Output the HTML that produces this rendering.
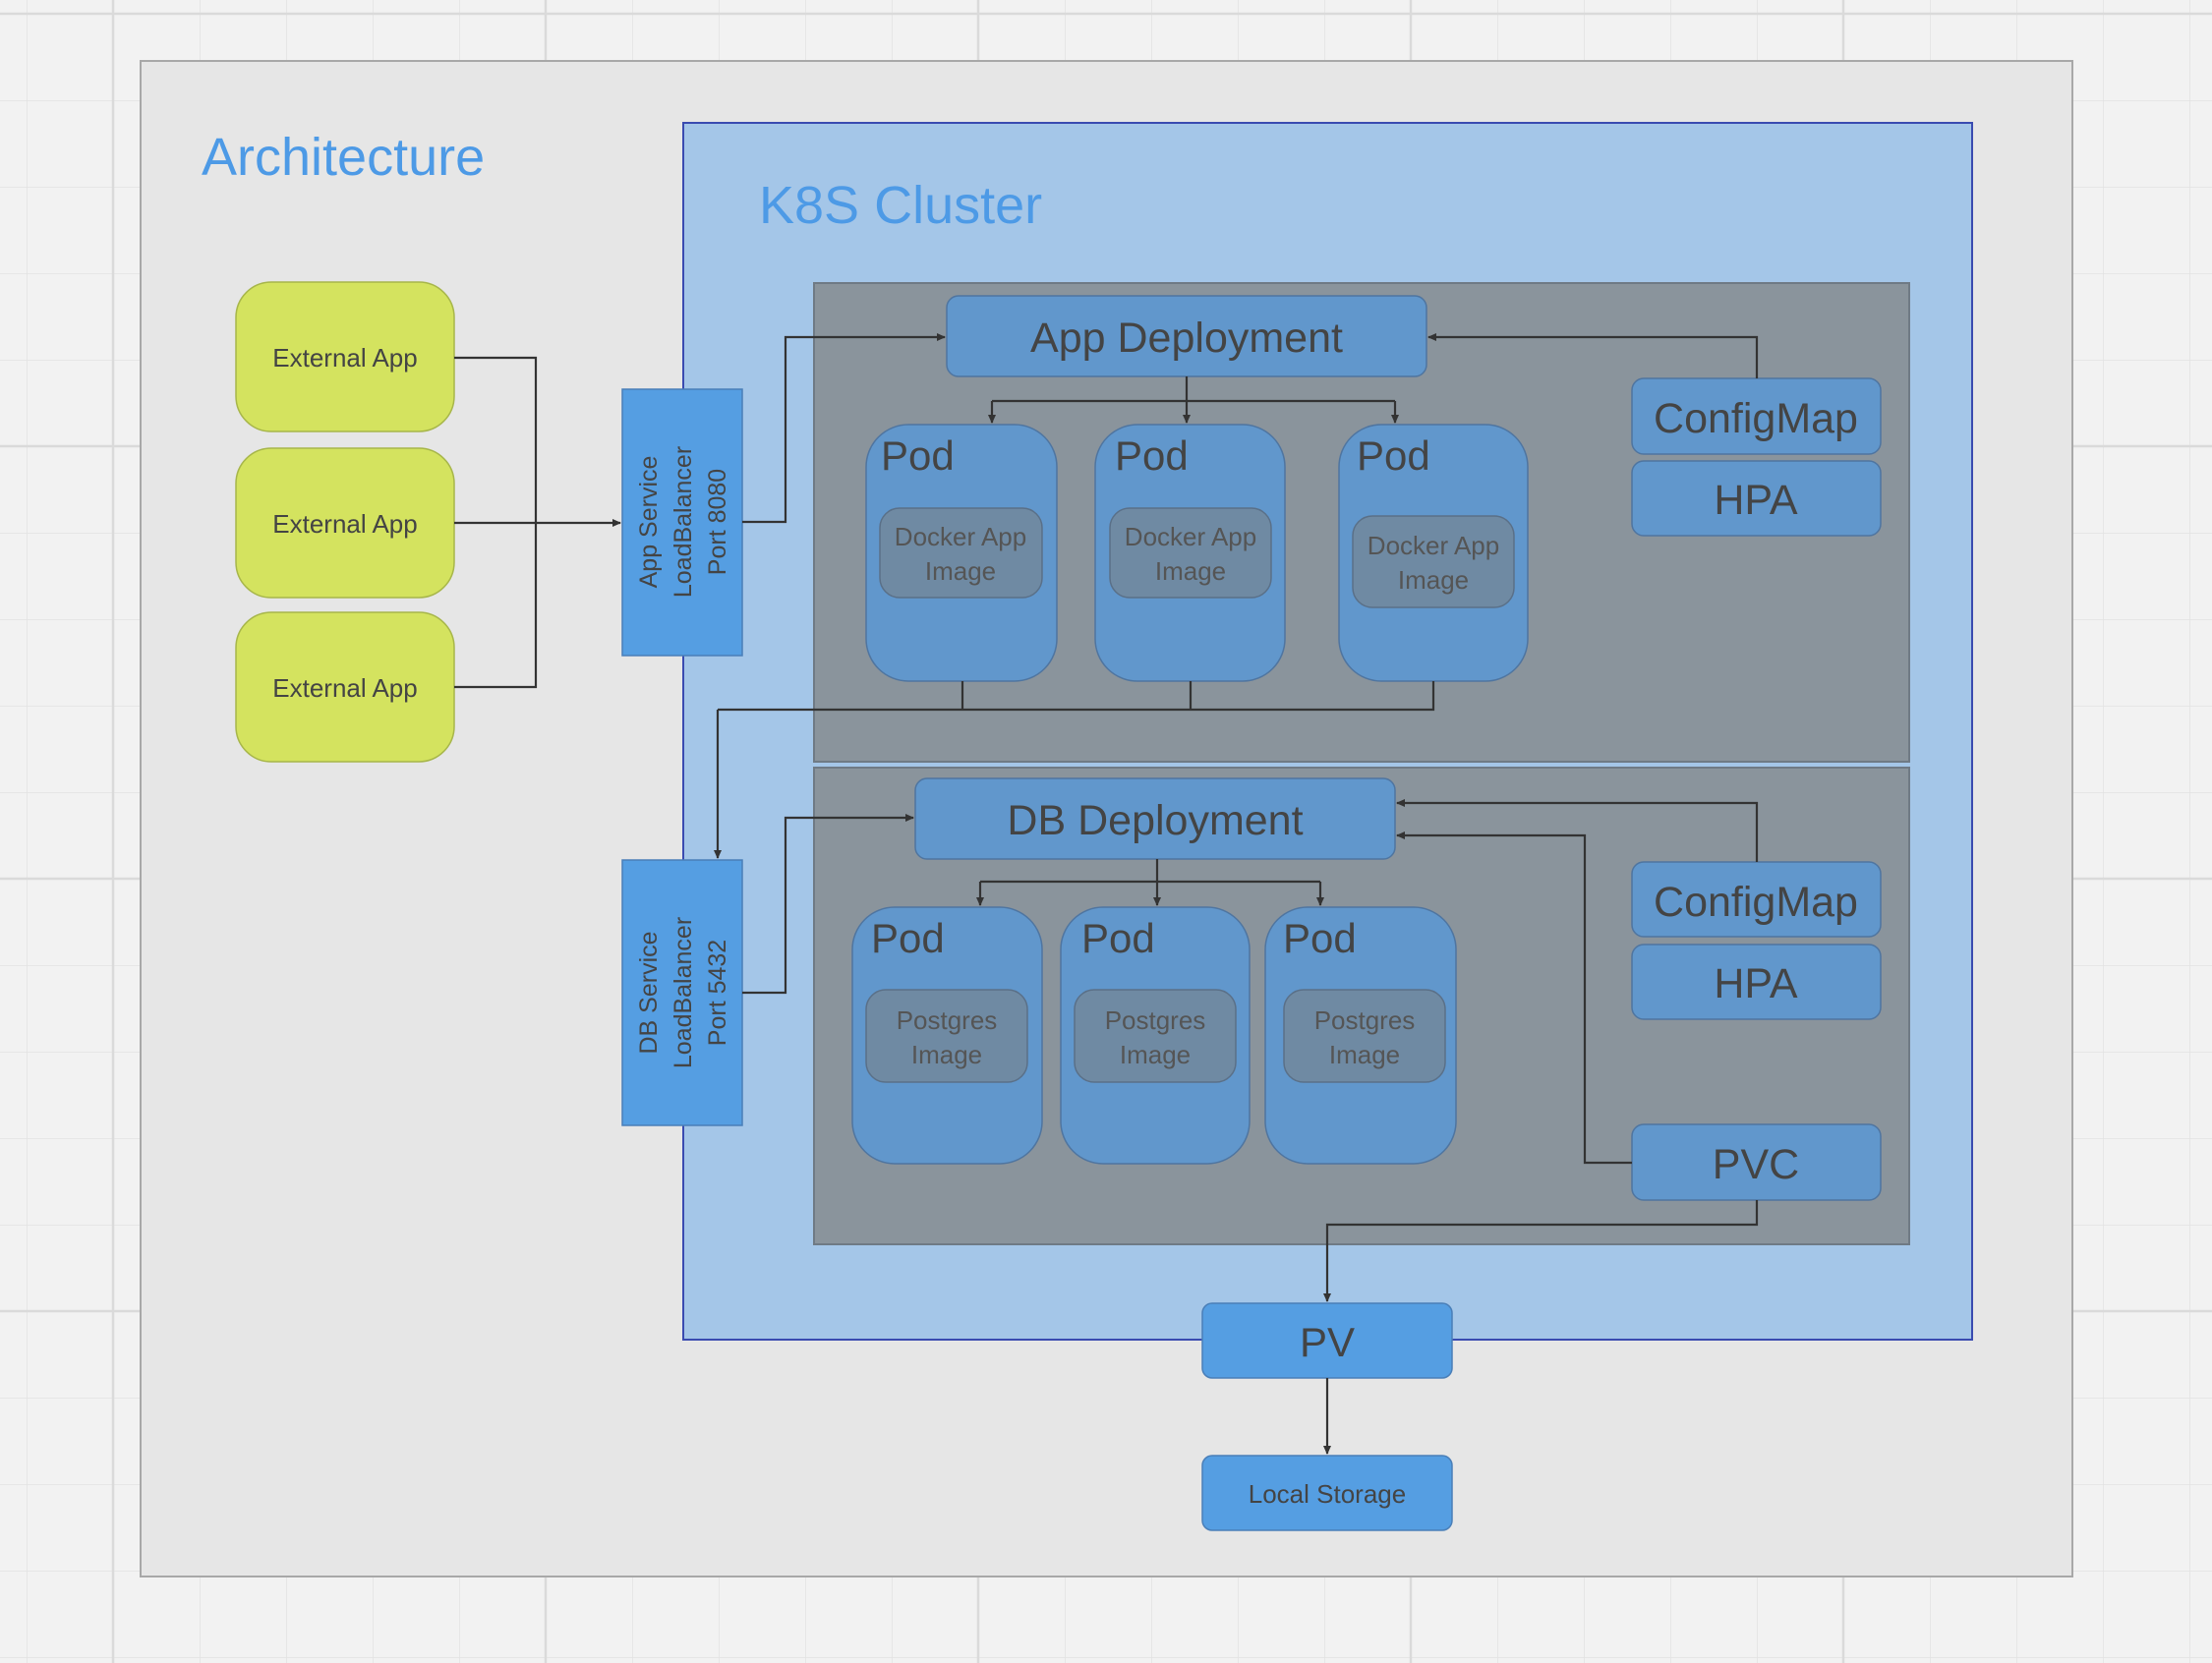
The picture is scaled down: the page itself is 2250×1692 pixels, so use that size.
<!DOCTYPE html>
<html><head><meta charset="utf-8"><style>
html,body{margin:0;padding:0;width:2250px;height:1692px;overflow:hidden;background:#f2f2f2}
svg{display:block}
text{font-family:"Liberation Sans","DejaVu Sans",sans-serif;}
</style></head><body>
<svg width="2250" height="1692" viewBox="0 0 2250 1692" xmlns="http://www.w3.org/2000/svg">
<defs>
<pattern id="g" x="27" y="14" width="88" height="88" patternUnits="userSpaceOnUse">
<path d="M0 0V88M0 0H88" stroke="#e2e2e2" stroke-width="1.5" fill="none"/>
</pattern>
<marker id="a" markerWidth="10" markerHeight="10" refX="8" refY="5" orient="auto" markerUnits="userSpaceOnUse">
<path d="M0 1L9 5L0 9z" fill="#333"/>
</marker>
</defs>
<rect width="2250" height="1692" fill="url(#g)"/>
<g stroke="#dadada" stroke-width="2.5"><line x1="115" y1="0" x2="115" y2="1692"/><line x1="555" y1="0" x2="555" y2="1692"/><line x1="995" y1="0" x2="995" y2="1692"/><line x1="1435" y1="0" x2="1435" y2="1692"/><line x1="1875" y1="0" x2="1875" y2="1692"/><line x1="0" y1="14" x2="2250" y2="14"/><line x1="0" y1="454" x2="2250" y2="454"/><line x1="0" y1="894" x2="2250" y2="894"/><line x1="0" y1="1334" x2="2250" y2="1334"/></g>

<rect x="143" y="62" width="1965" height="1542" fill="#e6e6e6" stroke="#a8a8a8" stroke-width="2"/>
<text x="205" y="178" font-size="54" fill="#4d9ae6">Architecture</text>

<rect x="695" y="125" width="1311" height="1238" fill="#a4c6e8" stroke="#3a4bb0" stroke-width="2"/>
<text x="772" y="227" font-size="54" fill="#4d9ae6">K8S Cluster</text>

<rect x="828" y="288" width="1114" height="487" fill="#8a949c" stroke="#6f7a85" stroke-width="2"/>
<rect x="828" y="781" width="1114" height="485" fill="#8a949c" stroke="#6f7a85" stroke-width="2"/>

<g fill="#d4e35f" stroke="#a7b64a" stroke-width="1.5">
<rect x="240" y="287" width="222" height="152" rx="36"/>
<rect x="240" y="456" width="222" height="152" rx="36"/>
<rect x="240" y="623" width="222" height="152" rx="36"/>
</g>
<g font-size="26" fill="#444" text-anchor="middle">
<text x="351" y="373">External App</text>
<text x="351" y="542">External App</text>
<text x="351" y="709">External App</text>
</g>

<g fill="#559ee2" stroke="#4a7fb8" stroke-width="1.5">
<rect x="633" y="396" width="122" height="271"/>
<rect x="633" y="875" width="122" height="270"/>
<rect x="1223" y="1326" width="254" height="76" rx="10"/>
<rect x="1223" y="1481" width="254" height="76" rx="10"/>
</g>
<g font-size="25" fill="#444" text-anchor="middle">
<text transform="translate(694,531) rotate(-90)"><tspan x="0" y="-26">App Service</tspan><tspan x="0" y="9">LoadBalancer</tspan><tspan x="0" y="44">Port 8080</tspan></text>
<text transform="translate(694,1010) rotate(-90)"><tspan x="0" y="-26">DB Service</tspan><tspan x="0" y="9">LoadBalancer</tspan><tspan x="0" y="44">Port 5432</tspan></text>
</g>
<text x="1350" y="1380" font-size="42" fill="#444" text-anchor="middle">PV</text>
<text x="1350" y="1529" font-size="26" fill="#444" text-anchor="middle">Local Storage</text>

<g fill="#6197cc" stroke="#4f75a0" stroke-width="1.5">
<rect x="963" y="301" width="488" height="82" rx="12"/>
<rect x="931" y="792" width="488" height="82" rx="12"/>
<rect x="1660" y="385" width="253" height="77" rx="12"/>
<rect x="1660" y="469" width="253" height="76" rx="12"/>
<rect x="1660" y="877" width="253" height="76" rx="12"/>
<rect x="1660" y="961" width="253" height="76" rx="12"/>
<rect x="1660" y="1144" width="253" height="77" rx="12"/>
<rect x="881" y="432" width="194" height="261" rx="43"/>
<rect x="1114" y="432" width="193" height="261" rx="43"/>
<rect x="1362" y="432" width="192" height="261" rx="43"/>
<rect x="867" y="923" width="193" height="261" rx="43"/>
<rect x="1079" y="923" width="192" height="261" rx="43"/>
<rect x="1287" y="923" width="194" height="261" rx="43"/>
</g>
<g fill="#6f8aa3" stroke="#5a7088" stroke-width="1.5">
<rect x="895" y="517" width="165" height="91" rx="20"/>
<rect x="1129" y="517" width="164" height="91" rx="20"/>
<rect x="1376" y="525" width="164" height="93" rx="20"/>
<rect x="881" y="1007" width="164" height="94" rx="20"/>
<rect x="1093" y="1007" width="164" height="94" rx="20"/>
<rect x="1306" y="1007" width="164" height="94" rx="20"/>
</g>
<g fill="#444" font-size="43" text-anchor="middle">
<text x="1207" y="358">App Deployment</text>
<text x="1175" y="849">DB Deployment</text>
<text x="1786" y="440">ConfigMap</text>
<text x="1786" y="523">HPA</text>
<text x="1786" y="932">ConfigMap</text>
<text x="1786" y="1015">HPA</text>
<text x="1786" y="1199">PVC</text>
</g>
<g fill="#444" font-size="42">
<text x="896" y="478">Pod</text>
<text x="1134" y="478">Pod</text>
<text x="1380" y="478">Pod</text>
<text x="886" y="969">Pod</text>
<text x="1100" y="969">Pod</text>
<text x="1305" y="969">Pod</text>
</g>
<g fill="#555" font-size="26" text-anchor="middle">
<text x="977" y="555">Docker App</text><text x="977" y="590">Image</text>
<text x="1211" y="555">Docker App</text><text x="1211" y="590">Image</text>
<text x="1458" y="564">Docker App</text><text x="1458" y="599">Image</text>
<text x="963" y="1047">Postgres</text><text x="963" y="1082">Image</text>
<text x="1175" y="1047">Postgres</text><text x="1175" y="1082">Image</text>
<text x="1388" y="1047">Postgres</text><text x="1388" y="1082">Image</text>
</g>

<g stroke="#333" stroke-width="2.2" fill="none">
<path d="M462 364H545V699H462"/>
<path d="M462 532H545"/>
<path d="M545 532H631" marker-end="url(#a)"/>
<path d="M755 531H799V343H961" marker-end="url(#a)"/>
<path d="M1207 383V408"/>
<path d="M1009 408H1419"/>
<path d="M1009 408V430" marker-end="url(#a)"/>
<path d="M1207 408V430" marker-end="url(#a)"/>
<path d="M1419 408V430" marker-end="url(#a)"/>
<path d="M1787 385V343H1453" marker-end="url(#a)"/>
<path d="M979 693V722M1211 693V722M1458 693V722H730"/>
<path d="M730 722V873" marker-end="url(#a)"/>
<path d="M755 1010H799V832H929" marker-end="url(#a)"/>
<path d="M1177 874V897"/>
<path d="M997 897H1343"/>
<path d="M997 897V921" marker-end="url(#a)"/>
<path d="M1177 897V921" marker-end="url(#a)"/>
<path d="M1343 897V921" marker-end="url(#a)"/>
<path d="M1787 877V817H1421" marker-end="url(#a)"/>
<path d="M1660 1183H1612V850H1421" marker-end="url(#a)"/>
<path d="M1787 1221V1246H1350V1324" marker-end="url(#a)"/>
<path d="M1350 1402V1479" marker-end="url(#a)"/>
</g>
</svg>
</body></html>
